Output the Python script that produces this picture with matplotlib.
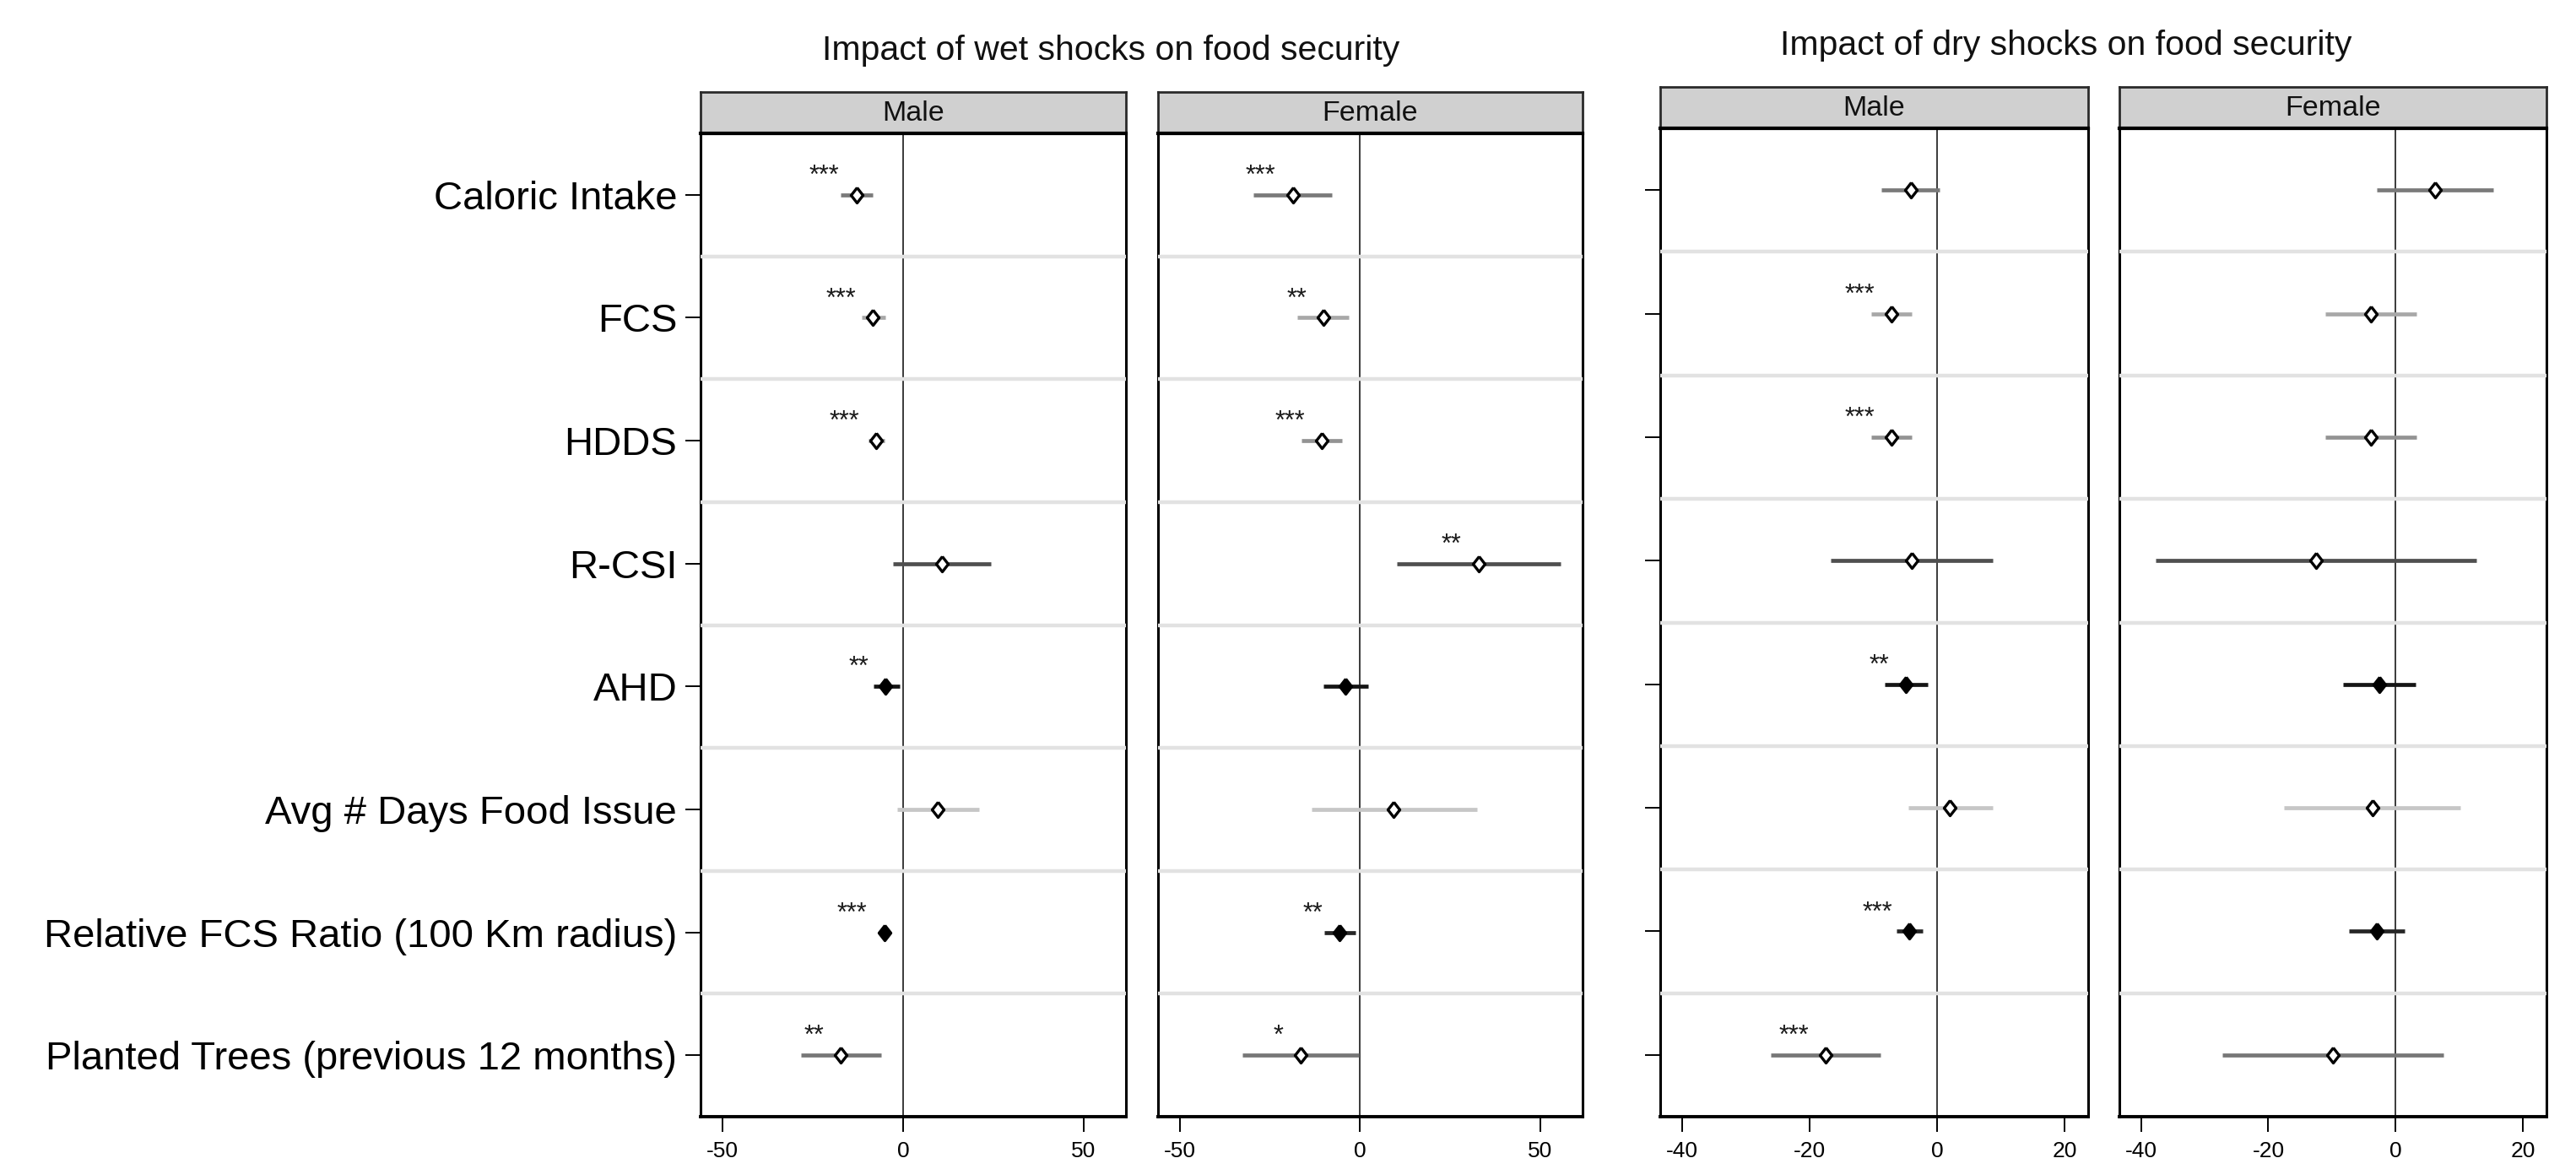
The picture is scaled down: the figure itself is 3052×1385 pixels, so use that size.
import numpy as np
import matplotlib
matplotlib.use("Agg")
import matplotlib.pyplot as plt

plt.rcParams['font.family'] = ['Liberation Sans', 'DejaVu Sans']

outcomes = ["Caloric Intake", "FCS", "HDDS", "R-CSI", "AHD",
            "Avg # Days Food Issue", "Relative FCS Ratio (100 Km radius)",
            "Planted Trees (previous 12 months)"]

wet_male_est = [-12.9, -8.4, -7.4, 10.9, -4.8, 9.7, -5.2, -17.2]
wet_male_lo = [-17.3, -11.5, -9.6, -2.7, -8.2, -1.6, -6.8, -28.3]
wet_male_hi = [-8.4, -4.9, -5.2, 24.4, -1.0, 21.1, -3.4, -6.0]
wet_male_stars = ['***', '***', '***', '', '**', '', '***', '**']

wet_female_est = [-18.7, -10.2, -10.7, 32.9, -4.1, 9.4, -5.6, -16.6]
wet_female_lo = [-29.5, -17.4, -16.3, 10.2, -10.2, -13.5, -9.9, -32.6]
wet_female_hi = [-7.7, -3.1, -5.0, 55.8, 2.2, 32.5, -1.3, -0.3]
wet_female_stars = ['***', '**', '***', '**', '', '', '**', '*']

dry_male_est = [-4.1, -7.1, -7.1, -3.9, -4.9, 2.0, -4.3, -17.5]
dry_male_lo = [-8.7, -10.3, -10.3, -16.6, -8.2, -4.5, -6.4, -26.1]
dry_male_hi = [0.4, -3.9, -3.9, 8.8, -1.4, 8.7, -2.2, -8.8]
dry_male_stars = ['', '***', '***', '', '**', '', '***', '***']

dry_female_est = [6.2, -3.9, -3.9, -12.5, -2.6, -3.6, -3.0, -9.9]
dry_female_lo = [-3.0, -11.1, -11.1, -37.7, -8.2, -17.5, -7.3, -27.2]
dry_female_hi = [15.4, 3.3, 3.3, 12.7, 3.2, 10.2, 1.4, 7.5]
dry_female_stars = ['', '', '', '', '', '', '', '']

# bar shade and marker fill per outcome
bar_colors = ['#7a7a7a', '#a8a8a8', '#939393', '#4f4f4f', '#151515', '#c6c6c6', '#262626', '#777777']
filled = [False, False, False, False, True, False, True, False]

W, H = 3052, 1385
fig = plt.figure(figsize=(W / 100, H / 100), dpi=100)
fig.patch.set_facecolor('white')

diamond = [(0, 1), (0.78, 0), (0, -1), (-0.78, 0), (0, 1)]


def px_axes(x0, y0, x1, y1):
    return fig.add_axes([x0 / W, 1 - y1 / H, (x1 - x0) / W, (y1 - y0) / H])


def panel(x0, x1, ytop, htop, xlim, xticks, est, lo, hi, stars, label, ylabels, yticks):
    ax = px_axes(x0, ytop, x1, 1323)
    y = np.arange(len(outcomes))
    ax.set_xlim(*xlim)
    ax.set_ylim(len(outcomes) - 0.5, -0.5)
    ax.axvline(0, color='#3a3a3a', lw=1.4, zorder=1)
    for i in range(len(outcomes)):
        ax.plot([lo[i], hi[i]], [y[i], y[i]], color=bar_colors[i], lw=3.4,
                solid_capstyle='butt', zorder=2)
        ax.plot(est[i], y[i], marker=diamond, ms=13, mew=2.4, mec='black',
                mfc='black' if filled[i] else 'white', zorder=4)
        if stars[i]:
            ax.annotate(stars[i], xy=(est[i], y[i]), xytext=(-20, 14),
                        textcoords='offset pixels', ha='right', va='baseline',
                        fontsize=22, color='#1a1a1a', zorder=5)
    for b in np.arange(0.5, len(outcomes) - 1, 1.0):
        ax.axhline(b, color='#e2e2e2', lw=3.2, zorder=3)
    for s in ax.spines.values():
        s.set_linewidth(2.2)
        s.set_color('black')
    ax.spines['bottom'].set_linewidth(2.8)
    ax.set_xticks(xticks)
    ax.set_xticklabels([str(t) for t in xticks])
    ax.tick_params(axis='x', direction='out', length=13, width=1.4, labelsize=19, pad=8)
    if yticks:
        ax.set_yticks(y)
        ax.set_yticklabels(outcomes if ylabels else [''] * len(outcomes))
        ax.tick_params(axis='y', direction='out', length=13, width=1.4, labelsize=34, pad=7)
    else:
        ax.set_yticks([])

    hd = px_axes(x0, htop, x1, ytop)
    hd.set_facecolor('#d0d0d0')
    hd.set_xticks([])
    hd.set_yticks([])
    for s in hd.spines.values():
        s.set_linewidth(2.0)
        s.set_color('#2a2a2a')
    hd.spines['bottom'].set_linewidth(3.0)
    hd.spines['bottom'].set_color('black')
    hd.text(0.5, 0.47, label, ha='center', va='center', fontsize=24.5,
            transform=hd.transAxes, color='#111111')
    return ax


panel(830, 1334, 158, 109, (-56.1, 61.8), [-50, 0, 50],
      wet_male_est, wet_male_lo, wet_male_hi, wet_male_stars, 'Male', True, True)
panel(1372, 1875, 158, 109, (-56.1, 61.8), [-50, 0, 50],
      wet_female_est, wet_female_lo, wet_female_hi, wet_female_stars, 'Female', False, False)
panel(1967, 2474, 152, 103, (-43.4, 23.7), [-40, -20, 0, 20],
      dry_male_est, dry_male_lo, dry_male_hi, dry_male_stars, 'Male', False, True)
panel(2511, 3017, 152, 103, (-43.4, 23.7), [-40, -20, 0, 20],
      dry_female_est, dry_female_lo, dry_female_hi, dry_female_stars, 'Female', False, False)

fig.text(1316 / W, 1 - 60 / H, 'Impact of wet shocks on food security',
         ha='center', va='center', fontsize=29.5, color='#111111')
fig.text(2448 / W, 1 - 54 / H, 'Impact of dry shocks on food security',
         ha='center', va='center', fontsize=29.5, color='#111111')

fig.savefig('out.png', dpi=100, facecolor='white')
